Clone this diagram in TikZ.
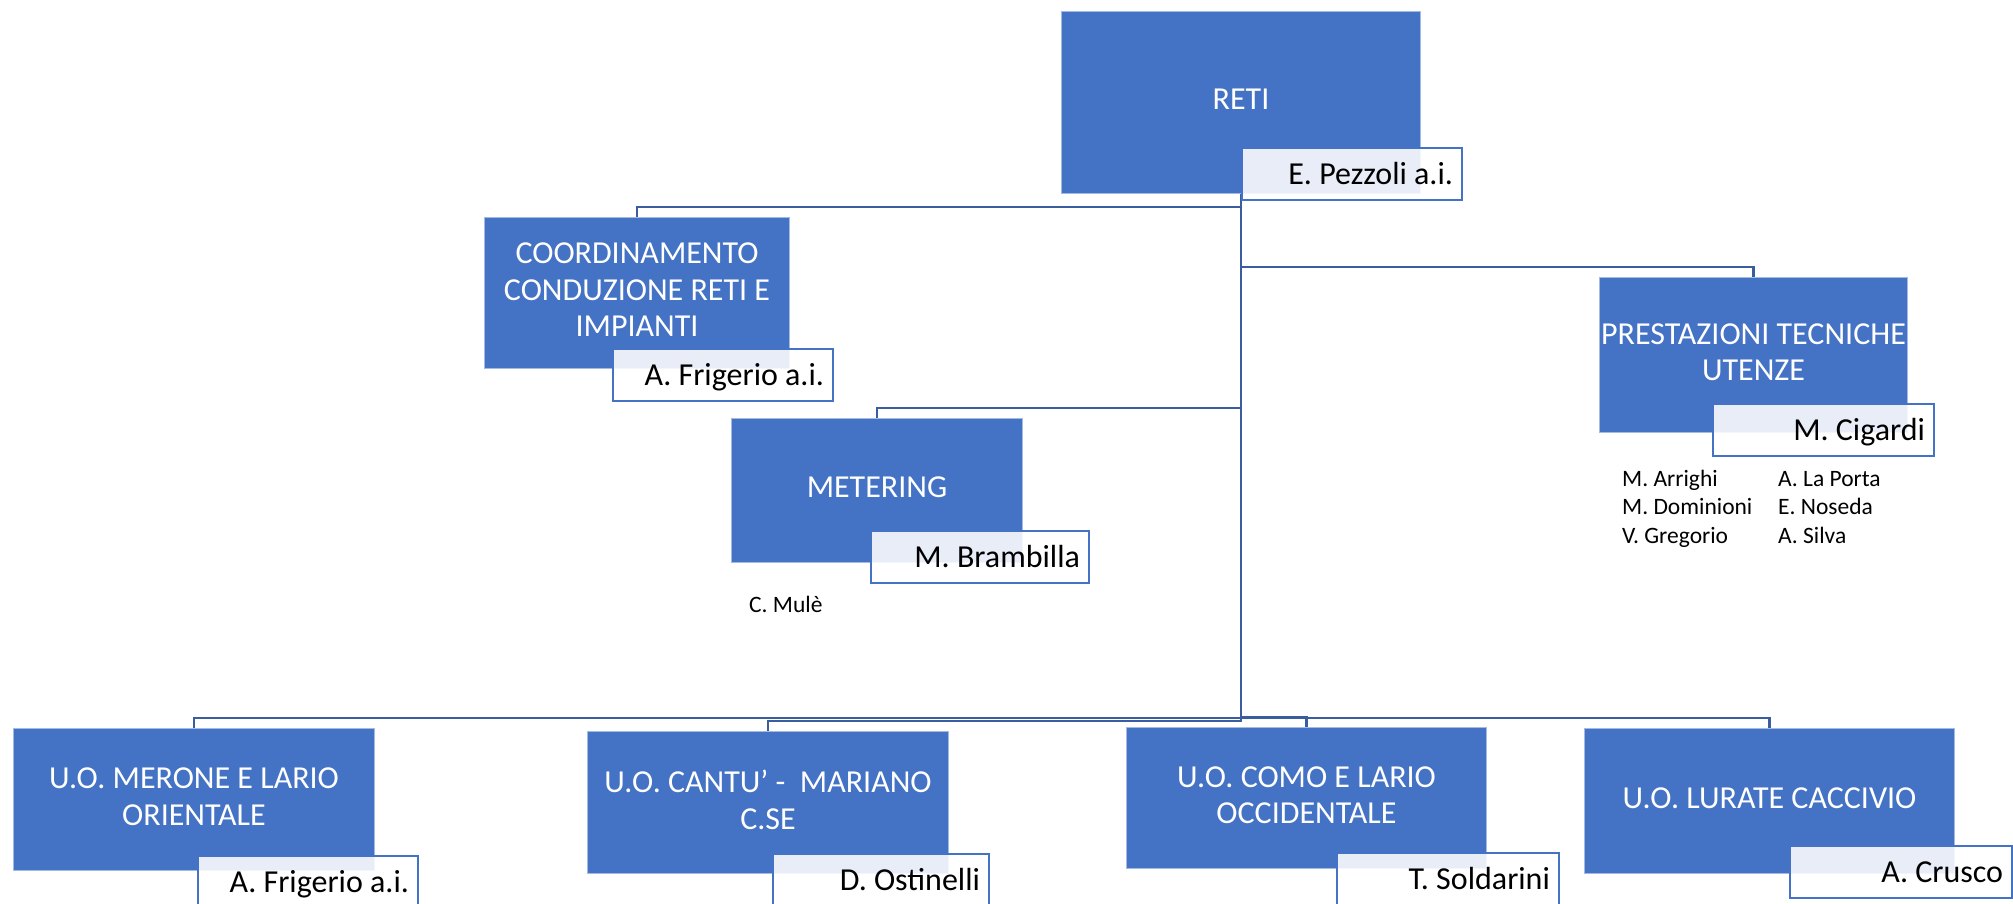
\documentclass[tikz,border=0pt]{standalone}
\usepackage{fontspec}
\usetikzlibrary{backgrounds}
\setmainfont{Carlito}
\definecolor{boxblue}{HTML}{4472C4}
\definecolor{boxedge}{HTML}{A3BBE3}
\definecolor{connblue}{HTML}{3A5DA0}
\newcommand\unitfont{\fontsize{32}{36.5}\selectfont}
\newcommand\namefont{\fontsize{23.5}{28.5}\selectfont}
\begin{document}
\begin{tikzpicture}[x=1pt,y=-1pt,
  unitbox/.style={draw=boxedge, line width=1pt, fill=boxblue, text=white,
    font=\unitfont, align=center, text depth=6pt, inner sep=0pt, anchor=north west},
  lab/.style={draw=boxblue, line width=2pt, fill=white, fill opacity=0.88, text opacity=1,
    text=black, font=\unitfont, anchor=north west, minimum width=#1, minimum height=52pt,
    text width=\dimexpr#1-18pt\relax, align=flush right, inner xsep=9pt, inner ysep=0pt,
    text height=20.6pt, text depth=0pt},
  lab/.default=220pt,
  conn/.style={draw=connblue, line width=2.5pt},
  person/.style={font=\namefont, text=black, anchor=base west, inner sep=0pt}]
\useasboundingbox (0,0) rectangle (2013,903);
\clip (0,0) rectangle (2013,903);
% units
\node[unitbox, minimum width=359pt, minimum height=182pt] (reti) at (1061,11) {RETI};
\node[unitbox, minimum width=305pt, minimum height=151pt] (coord) at (484,217) {COORDINAMENTO\\CONDUZIONE RETI E\\IMPIANTI};
\node[unitbox, minimum width=291pt, minimum height=144pt] (meter) at (731,418) {METERING};
\node[unitbox, minimum width=308pt, minimum height=155pt] (prest) at (1599,277) {PRESTAZIONI TECNICHE\\UTENZE};
\node[unitbox, minimum width=361pt, minimum height=142pt] (merone) at (13,728) {U.O. MERONE E LARIO\\ORIENTALE};
\node[unitbox, minimum width=361pt, minimum height=142pt] (cantu) at (587,731) {U.O. CANTU’ -~~MARIANO\\C.SE};
\node[unitbox, minimum width=360pt, minimum height=141pt] (como) at (1126,727) {U.O. COMO E LARIO\\OCCIDENTALE};
\node[unitbox, minimum width=370pt, minimum height=145pt] (lurate) at (1584,728) {U.O. LURATE CACCIVIO};
% connectors
\begin{scope}[on background layer]
\draw[conn] (reti.south) |- ([yshift=10pt]coord.north) -- (coord.north);
\draw[conn] (reti.south) |- ([yshift=10pt]prest.north) -- (prest.north);
\draw[conn] (reti.south) |- ([yshift=10pt]meter.north) -- (meter.north);
\draw[conn] (reti.south) |- ([yshift=10pt]merone.north) -- (merone.north);
\draw[conn] (reti.south) |- ([yshift=10pt]cantu.north) -- (cantu.north);
\draw[conn] (reti.south) |- ([yshift=10pt]como.north) -- (como.north);
\draw[conn] (reti.south) |- ([yshift=10pt]lurate.north) -- (lurate.north);
\end{scope}
% labels
\node[lab] (retil) at (1241,147) {E. Pezzoli a.i.};
\node[lab] (coordl) at (612,348) {A. Frigerio a.i.};
\node[lab=218pt] (meterl) at (870,530) {M. Brambilla};
\node[lab=221pt] (prestl) at (1712,403) {M. Cigardi};
\node[lab] (meronel) at (197,855) {A. Frigerio a.i.};
\node[lab=216pt] (cantul) at (772,853) {D. Ostinelli};
\node[lab=222pt] (comol) at (1336,852) {T. Soldarini};
\node[lab=222pt] (luratel) at (1789,845) {A. Crusco};
% people
\node[person] (mule) at (749,612) {C. Mulè};
\node[person] (p1) at (1622,486) {M. Arrighi};
\node[person] (p2) at (1622,514.5) {M. Dominioni};
\node[person] (p3) at (1622,543) {V. Gregorio};
\node[person] (p4) at (1778,486) {A. La Porta};
\node[person] (p5) at (1778,514.5) {E. Noseda};
\node[person] (p6) at (1778,543) {A. Silva};
\end{tikzpicture}
\end{document}
